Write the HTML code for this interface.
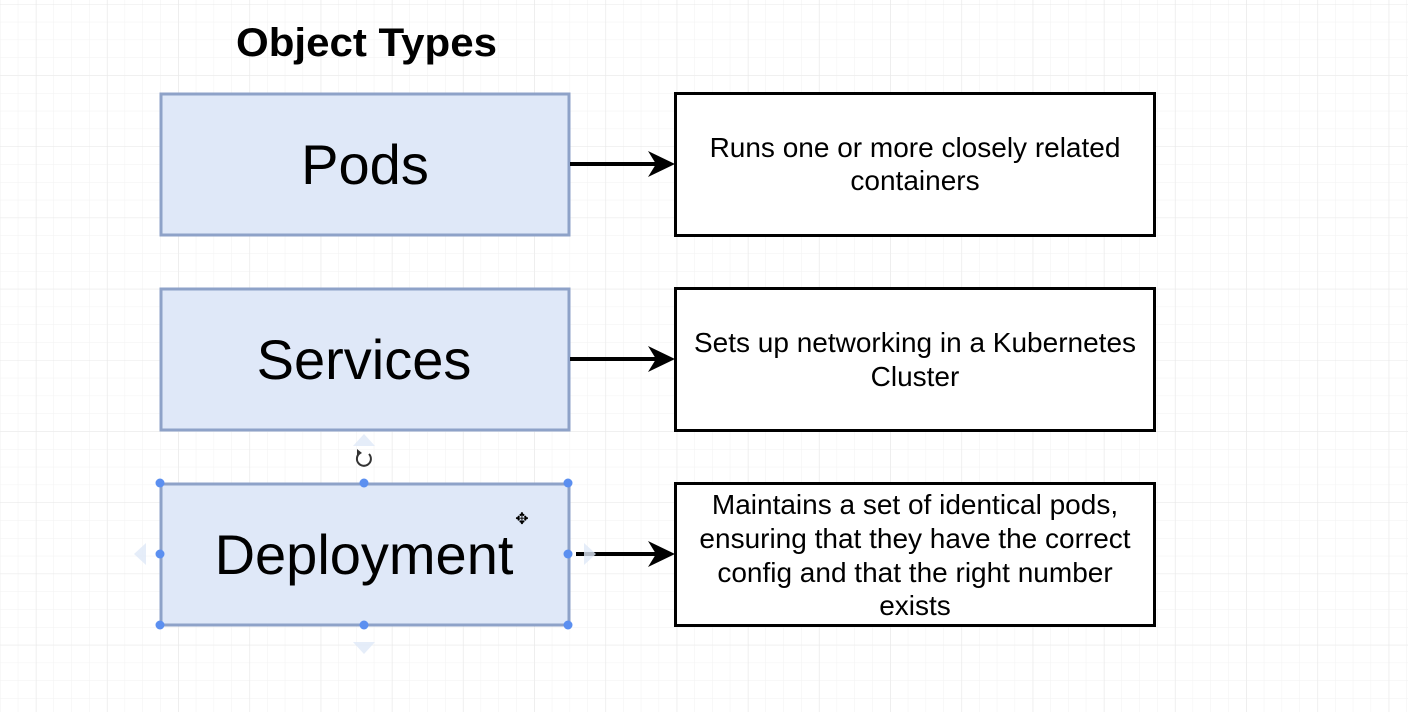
<!DOCTYPE html>
<html><head><meta charset="utf-8"><style>
html,body{margin:0;padding:0;background:#fff}
svg{display:block}
text{font-family:"Liberation Sans",Arial,sans-serif}
</style></head><body>
<svg width="1408" height="712" viewBox="0 0 1408 712" xmlns="http://www.w3.org/2000/svg">
<defs>
<pattern id="g" x="0" y="4" width="17.8" height="17.8" patternUnits="userSpaceOnUse">
<path d="M0 0H17.8M0 0V17.8" stroke="#f2f2f2" stroke-width="1" fill="none"/>
</pattern>
<pattern id="G" x="36" y="4" width="71.2" height="71.2" patternUnits="userSpaceOnUse">
<path d="M0 0H71.2M0 0V71.2" stroke="#e8e8e8" stroke-width="1" fill="none"/>
</pattern>
</defs>
<rect width="1408" height="712" fill="#fff"/>
<rect width="1408" height="712" fill="url(#g)"/>
<rect width="1408" height="712" fill="url(#G)"/>

<text x="236" y="56" font-size="40" font-weight="bold" textLength="261" lengthAdjust="spacingAndGlyphs">Object Types</text>

<g fill="#dfe8f8" stroke="#8ea2c8" stroke-width="3">
<rect x="161" y="94" width="408" height="141"/>
<rect x="161" y="289" width="408" height="141"/>
<rect x="161" y="484" width="408" height="141"/>
</g>
<g font-size="56" text-anchor="middle">
<text x="365" y="184">Pods</text>
<text x="364" y="379">Services</text>
<text x="364" y="574">Deployment</text>
</g>

<g fill="#fff" stroke="#000" stroke-width="3">
<rect x="675.5" y="93.5" width="479" height="142"/>
<rect x="675.5" y="288.5" width="479" height="142"/>
<rect x="675.5" y="483.5" width="479" height="142"/>
</g>
<g font-size="28" text-anchor="middle">
<text x="915" y="157">Runs one or more closely related</text>
<text x="915" y="190">containers</text>
<text x="915" y="352">Sets up networking in a Kubernetes</text>
<text x="915" y="386">Cluster</text>
<text x="915" y="514">Maintains a set of identical pods,</text>
<text x="915" y="548">ensuring that they have the correct</text>
<text x="915" y="582">config and that the right number</text>
<text x="915" y="615">exists</text>
</g>

<g stroke="#000" stroke-width="4">
<line x1="570" y1="164" x2="660" y2="164"/>
<line x1="570" y1="359" x2="660" y2="359"/>
<line x1="576" y1="554" x2="660" y2="554"/>
</g>
<g fill="#000">
<path d="M675 164 L648 151 L656 164 L648 177 Z"/>
<path d="M675 359 L648 346 L656 359 L648 372 Z"/>
<path d="M675 554 L648 541 L656 554 L648 567 Z"/>
</g>

<g fill="#dfe8f8" opacity="0.8">
<path d="M353 446 L364 434 L375 446 Z"/>
<path d="M353 642 L364 654 L375 642 Z"/>
<path d="M146 543 L134 554 L146 565 Z"/>
<path d="M584 543 L596 554 L584 565 Z"/>
</g>
<g fill="#5b8ff0">
<circle cx="160" cy="483" r="4.5"/><circle cx="364" cy="483" r="4.5"/><circle cx="568" cy="483" r="4.5"/>
<circle cx="160" cy="554" r="4.5"/><circle cx="568" cy="554" r="4.5"/>
<circle cx="160" cy="625" r="4.5"/><circle cx="364" cy="625" r="4.5"/><circle cx="568" cy="625" r="4.5"/>
</g>
<path d="M369 454 A7 7 0 1 1 360 453" fill="none" stroke="#333" stroke-width="2"/>
<path d="M357 449 L362 453 L357 456 Z" fill="#333"/>
<text x="522" y="524" font-size="16" text-anchor="middle">✥</text>
</svg>
</body></html>
